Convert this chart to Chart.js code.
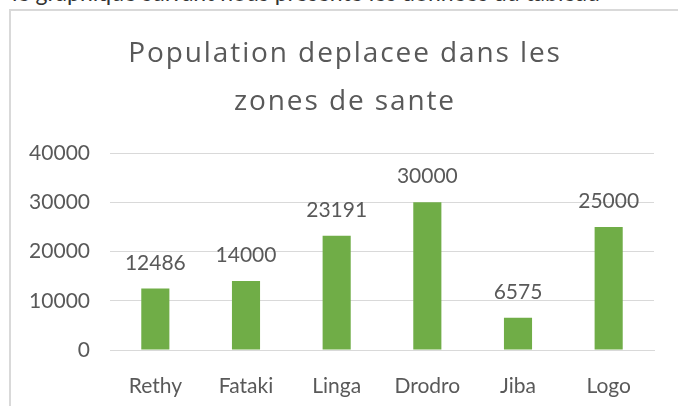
<!DOCTYPE html>
<html>
<head>
<meta charset="utf-8">
<script src="https://cdn.jsdelivr.net/npm/chart.js@4/dist/chart.umd.min.js"></script>
<style>
  html, body { margin: 0; padding: 0; background: #fff; overflow: hidden; }
  body { width: 678px; height: 406px; position: relative; font-family: Lato, sans-serif; }
  #intro { position: absolute; left: 12px; top: -22px; font-size: 23px; color: #333; white-space: nowrap; }
  #box { position: absolute; left: 9px; top: 9px; width: 700px; height: 420px;
         border-top: 2px solid #D9D9D9; border-left: 2px solid #D9D9D9; background: #fff; }
  #wrap { position: absolute; left: 11px; top: 11px; width: 672px; height: 395px; }
</style>
</head>
<body>
<div id="intro">le graphique suivant nous présente les données du tableau</div>
<div id="box"></div>
<div id="wrap"><canvas id="chart"></canvas></div>
<script>
// Données
const ZONES = ['Rethy', 'Fataki', 'Linga', 'Drodro', 'Jiba', 'Logo'];
const DEPLACES = [12486, 14000, 23191, 30000, 6575, 25000];
const TITRE = ['Population deplacee dans les', 'zones de sante'];
const Y_MAX = 40000;
const Y_PAS = 10000;

const GRIS_TEXTE = '#595959';
const GRIS_GRILLE = '#D9D9D9';
const VERT = '#70AD47';
const POLICE = 'Lato, sans-serif';

// Étiquettes de valeur au-dessus des barres
const etiquettes = {
  id: 'etiquettes',
  afterDatasetsDraw(chart) {
    const ctx = chart.ctx;
    const meta = chart.getDatasetMeta(0);
    ctx.save();
    ctx.font = '21px ' + POLICE;
    ctx.fillStyle = GRIS_TEXTE;
    ctx.textAlign = 'center';
    ctx.textBaseline = 'alphabetic';
    meta.data.forEach((bar, i) => {
      ctx.fillText(String(DEPLACES[i]), bar.x, bar.y - 19);
    });
    ctx.restore();
  }
};

// Titre un peu aéré et centré sur tout le cadre (pas seulement la zone moins le padding droit)
const titreEspace = {
  id: 'titreEspace',
  beforeDraw(chart) {
    const tb = chart.titleBlock;
    if (!tb || tb._espace) return;
    const orig = tb.draw;
    tb.draw = function () {
      const ctx = chart.ctx;
      ctx.save();
      ctx.letterSpacing = '1.9px';
      ctx.translate(12.5, 0);
      orig.apply(this, arguments);
      ctx.restore();
    };
    tb._espace = true;
  }
};

new Chart(document.getElementById('chart'), {
  type: 'bar',
  data: {
    labels: ZONES,
    datasets: [{
      data: DEPLACES,
      backgroundColor: VERT,
      borderWidth: 0,
      barPercentage: 0.31,
      categoryPercentage: 1
    }]
  },
  options: {
    responsive: true,
    maintainAspectRatio: false,
    animation: false,
    layout: { padding: { left: 0, right: 29, top: 0, bottom: 0 } },
    plugins: {
      legend: { display: false },
      tooltip: { enabled: false },
      title: {
        display: true,
        text: TITRE,
        color: GRIS_TEXTE,
        font: { family: '"Open Sans", sans-serif', size: 28, weight: 'normal', lineHeight: 1.68 },
        padding: { top: 20, bottom: 28 }
      }
    },
    scales: {
      x: {
        grid: { display: false },
        border: { display: true, color: GRIS_GRILLE, width: 1 },
        ticks: { color: GRIS_TEXTE, font: { family: POLICE, size: 21 }, padding: 16 },
        afterFit: (s) => { s.height = 56; }
      },
      y: {
        min: 0,
        max: Y_MAX,
        ticks: {
          stepSize: Y_PAS,
          color: GRIS_TEXTE,
          font: { family: POLICE, size: 21 },
          padding: 20,
          callback: (v) => String(v)
        },
        grid: { color: GRIS_GRILLE, drawTicks: false },
        border: { display: false },
        afterFit: (s) => { s.width = 99; }
      }
    }
  },
  plugins: [etiquettes, titreEspace]
});
</script>
</body>
</html>
